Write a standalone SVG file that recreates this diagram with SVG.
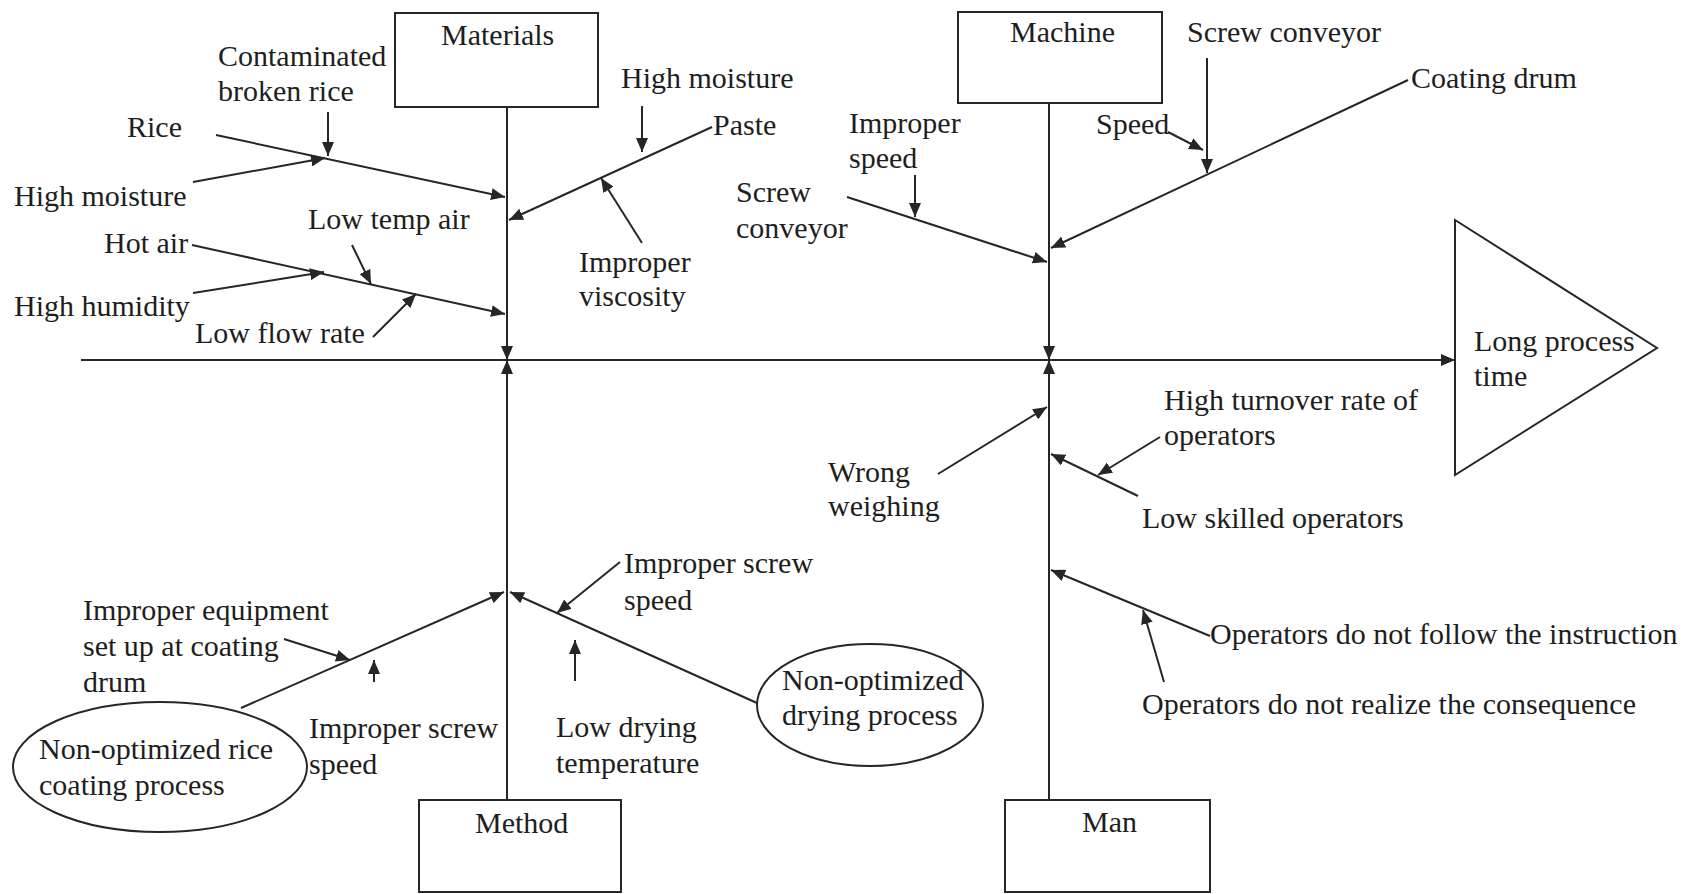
<svg xmlns="http://www.w3.org/2000/svg" width="1686" height="894" viewBox="0 0 1686 894">
  <style>
    .bg { fill: #ffffff; }
    .box { fill: #ffffff; stroke: #262626; stroke-width: 2; }
    .ln { fill: none; stroke: #262626; stroke-width: 2; }
    .ar { fill: none; stroke: #262626; stroke-width: 2; marker-end: url(#ah); }
    text { font-family: "Liberation Serif", "Times New Roman", serif; font-size: 30px; fill: #1e1e1e; }
  </style>
  <defs>
    <marker id="ah" viewBox="0 0 14 12" refX="14" refY="6" markerWidth="14" markerHeight="12" markerUnits="userSpaceOnUse" orient="auto">
      <path d="M0,0 L14,6 L0,12 z" fill="#262626"/>
    </marker>
  </defs>
  <rect class="bg" x="0" y="0" width="1686" height="894"/>

  <!-- category boxes -->
  <g id="materials">
    <rect class="box" x="395" y="13" width="203" height="94"/>
    <text x="441" y="45">Materials</text>
  </g>
  <g id="machine">
    <rect class="box" x="958" y="12" width="204" height="91"/>
    <text x="1010" y="42">Machine</text>
  </g>
  <g id="method">
    <rect class="box" x="419" y="800" width="202" height="92"/>
    <text x="475" y="833">Method</text>
  </g>
  <g id="man">
    <rect class="box" x="1005" y="800" width="205" height="92"/>
    <text x="1082" y="832">Man</text>
  </g>

  <!-- effect head -->
  <g id="effect">
    <polygon class="box" points="1455,220 1657,348 1455,475"/>
    <text x="1474" y="351">Long process</text>
    <text x="1474" y="386">time</text>
  </g>

  <!-- cause labels -->
  <g id="materials-causes">
    <text x="218" y="66">Contaminated</text>
    <text x="218" y="101">broken rice</text>
    <text x="127" y="137">Rice</text>
    <text x="14" y="206">High moisture</text>
    <text x="308" y="229">Low temp air</text>
    <text x="104" y="253">Hot air</text>
    <text x="14" y="316">High humidity</text>
    <text x="195" y="343">Low flow rate</text>
    <text x="621" y="88">High moisture</text>
    <text x="713" y="135">Paste</text>
    <text x="579" y="272">Improper</text>
    <text x="579" y="306">viscosity</text>
  </g>
  <g id="machine-causes">
    <text x="849" y="133">Improper</text>
    <text x="849" y="168">speed</text>
    <text x="736" y="202">Screw</text>
    <text x="736" y="238">conveyor</text>
    <text x="1187" y="42">Screw conveyor</text>
    <text x="1096" y="134">Speed</text>
    <text x="1411" y="88">Coating drum</text>
  </g>
  <g id="man-causes">
    <text x="1164" y="410">High turnover rate of</text>
    <text x="1164" y="445">operators</text>
    <text x="828" y="482">Wrong</text>
    <text x="828" y="516">weighing</text>
    <text x="1142" y="528">Low skilled operators</text>
    <text x="1210" y="644">Operators do not follow the instruction</text>
    <text x="1142" y="714">Operators do not realize the consequence</text>
  </g>
  <g id="method-causes">
    <text x="83" y="620">Improper equipment</text>
    <text x="83" y="656">set up at coating</text>
    <text x="83" y="692">drum</text>
    <text x="309" y="738">Improper screw</text>
    <text x="309" y="774">speed</text>
    <text x="624" y="573">Improper screw</text>
    <text x="624" y="610">speed</text>
    <text x="556" y="737">Low drying</text>
    <text x="556" y="773">temperature</text>
  </g>
  <g id="coating-process">
    <ellipse class="ln" cx="160" cy="767" rx="147" ry="65"/>
    <text x="39" y="759">Non-optimized rice</text>
    <text x="39" y="795">coating process</text>
  </g>
  <g id="drying-process">
    <ellipse class="ln" cx="870" cy="705" rx="113" ry="61"/>
    <text x="782" y="690">Non-optimized</text>
    <text x="782" y="725">drying process</text>
  </g>

  <!-- connectors -->
  <g id="connectors">
    <!-- backbone and spines -->
    <line class="ar" x1="81" y1="360" x2="1455" y2="360"/>
    <line class="ar" x1="507" y1="107" x2="507" y2="360"/>
    <line class="ar" x1="507" y1="800" x2="507" y2="360"/>
    <line class="ar" x1="1049" y1="103" x2="1049" y2="360"/>
    <line class="ar" x1="1049" y1="800" x2="1049" y2="360"/>

    <!-- materials -->
    <line class="ar" x1="216" y1="135" x2="505" y2="197"/>
    <line class="ar" x1="328" y1="112" x2="328" y2="156"/>
    <line class="ar" x1="193" y1="182" x2="325" y2="158"/>
    <line class="ar" x1="712" y1="127" x2="509" y2="220"/>
    <line class="ar" x1="642" y1="106" x2="642" y2="152"/>
    <line class="ar" x1="642" y1="243" x2="601" y2="178"/>
    <line class="ar" x1="192" y1="245" x2="505" y2="314"/>
    <line class="ar" x1="193" y1="293" x2="324" y2="272"/>
    <line class="ar" x1="352" y1="245" x2="371" y2="284"/>
    <line class="ar" x1="373" y1="337" x2="416" y2="294"/>

    <!-- machine -->
    <line class="ar" x1="847" y1="197" x2="1047" y2="262"/>
    <line class="ar" x1="915" y1="175" x2="915" y2="217"/>
    <line class="ar" x1="1408" y1="80" x2="1051" y2="248"/>
    <line class="ar" x1="1207" y1="58" x2="1207" y2="173"/>
    <line class="ar" x1="1168" y1="132" x2="1203" y2="150"/>

    <!-- man -->
    <line class="ar" x1="938" y1="474" x2="1047" y2="407"/>
    <line class="ar" x1="1138" y1="496" x2="1051" y2="454"/>
    <line class="ar" x1="1160" y1="437" x2="1098" y2="475"/>
    <line class="ar" x1="1210" y1="636" x2="1051" y2="570"/>
    <line class="ar" x1="1164" y1="682" x2="1143" y2="610"/>

    <!-- method -->
    <line class="ar" x1="241" y1="708" x2="504" y2="592"/>
    <line class="ar" x1="284" y1="639" x2="350" y2="660"/>
    <line class="ar" x1="374" y1="682" x2="374" y2="660"/>
    <line class="ar" x1="757" y1="703" x2="510" y2="592"/>
    <line class="ar" x1="620" y1="562" x2="557" y2="613"/>
    <line class="ar" x1="575" y1="681" x2="575" y2="640"/>
  </g>
</svg>
